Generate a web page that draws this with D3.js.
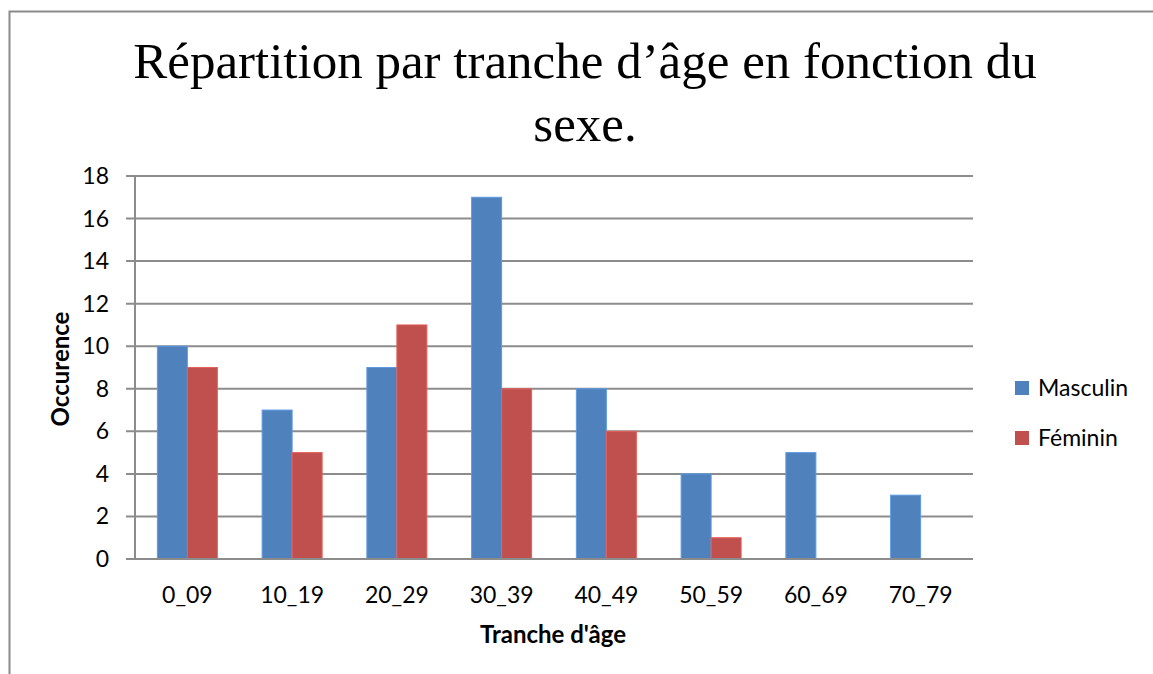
<!DOCTYPE html>
<html>
<head>
<meta charset="utf-8">
<script src="https://cdn.jsdelivr.net/npm/d3@7"></script>
<style>
  body { margin: 0; background: #fff; }
</style>
</head>
<body>
<div id="chart"></div>
<script>
// Data
var categories = ["0_09", "10_19", "20_29", "30_39", "40_49", "50_59", "60_69", "70_79"];
var masculin = [10, 7, 9, 17, 8, 4, 5, 3];
var feminin = [9, 5, 11, 8, 6, 1, 0, 0];
var seriesNames = ["Masculin", "Féminin"];
var colors = ["#4F81BD", "#C0504D"];
var yTicks = [0, 2, 4, 6, 8, 10, 12, 14, 16, 18];

var width = 1153, height = 674;
var sansFont = "Lato, 'Noto Sans', sans-serif";

var svg = d3.select("#chart")
  .append("svg")
  .attr("width", width)
  .attr("height", height);

// Chart frame (only left and top edges are visible)
svg.append("rect")
  .attr("x", 9.5)
  .attr("y", 11.5)
  .attr("width", 1200)
  .attr("height", 700)
  .attr("fill", "white")
  .attr("stroke", "#8a8a8a")
  .attr("stroke-width", 2);

// Title
var title = svg.append("text")
  .attr("text-anchor", "middle")
  .attr("font-family", "'Liberation Serif', 'DejaVu Serif', serif")
  .attr("font-size", "51px")
  .attr("fill", "#000");
title.append("tspan").attr("x", 585).attr("y", 78).text("Répartition par tranche d’âge en fonction du");
title.append("tspan").attr("x", 585).attr("y", 141).text("sexe.");

// Plot area
var plotLeft = 135, plotRight = 973, plotTop = 176, plotBottom = 559;

var x = d3.scaleBand()
  .domain(categories)
  .range([plotLeft, plotRight]);

var y = d3.scaleLinear()
  .domain([0, 18])
  .range([plotBottom, plotTop]);

// Gridlines
svg.append("g")
  .selectAll("line")
  .data(yTicks)
  .enter()
  .append("line")
  .attr("x1", plotLeft - 9)
  .attr("x2", plotRight)
  .attr("y1", function (d) { return y(d); })
  .attr("y2", function (d) { return y(d); })
  .attr("stroke", "#8c8c8c")
  .attr("stroke-width", 2);

// Y axis line
svg.append("line")
  .attr("x1", plotLeft)
  .attr("x2", plotLeft)
  .attr("y1", plotTop)
  .attr("y2", plotBottom)
  .attr("stroke", "#8c8c8c")
  .attr("stroke-width", 2);

// Y tick labels
svg.append("g")
  .selectAll("text")
  .data(yTicks)
  .enter()
  .append("text")
  .attr("x", plotLeft - 26)
  .attr("y", function (d) { return y(d); })
  .attr("dy", "0.35em")
  .attr("text-anchor", "end")
  .attr("font-family", sansFont)
  .attr("font-size", "23px")
  .attr("fill", "#000")
  .text(function (d) { return d; });

// Bars
var barW = 30;
var series = [masculin, feminin];
series.forEach(function (vals, s) {
  svg.append("g")
    .selectAll("rect")
    .data(vals)
    .enter()
    .append("rect")
    .attr("x", function (d, i) {
      return x(categories[i]) + x.bandwidth() / 2 - barW + s * barW;
    })
    .attr("y", function (d) { return y(d); })
    .attr("width", barW)
    .attr("height", function (d) { return plotBottom - y(d); })
    .attr("fill", colors[s])
    .attr("stroke", d3.color(colors[s]).brighter(0.5))
    .attr("stroke-width", 1);
});

// Redraw baseline on top of bars
svg.append("line")
  .attr("x1", plotLeft - 9)
  .attr("x2", plotRight)
  .attr("y1", plotBottom)
  .attr("y2", plotBottom)
  .attr("stroke", "#8c8c8c")
  .attr("stroke-width", 2);

// X category labels
svg.append("g")
  .selectAll("text")
  .data(categories)
  .enter()
  .append("text")
  .attr("x", function (d) { return x(d) + x.bandwidth() / 2; })
  .attr("y", 595)
  .attr("dy", "0.35em")
  .attr("text-anchor", "middle")
  .attr("font-family", sansFont)
  .attr("font-size", "23px")
  .attr("fill", "#000")
  .text(function (d) { return d; });

// Axis titles
svg.append("text")
  .attr("x", 553)
  .attr("y", 635)
  .attr("dy", "0.35em")
  .attr("text-anchor", "middle")
  .attr("font-family", sansFont)
  .attr("font-weight", "bold")
  .attr("font-size", "24px")
  .text("Tranche d'âge");

svg.append("text")
  .attr("transform", "translate(61,369) rotate(-90)")
  .attr("dy", "0.35em")
  .attr("text-anchor", "middle")
  .attr("font-family", sansFont)
  .attr("font-weight", "bold")
  .attr("font-size", "24px")
  .text("Occurence");

// Legend
var legend = svg.selectAll(".legend")
  .data(seriesNames)
  .enter()
  .append("g")
  .attr("class", "legend")
  .attr("transform", function (d, i) {
    return "translate(1015," + (388 + i * 50) + ")";
  });

legend.append("rect")
  .attr("x", 0)
  .attr("y", -7)
  .attr("width", 14)
  .attr("height", 14)
  .attr("fill", function (d, i) { return colors[i]; });

legend.append("text")
  .attr("x", 23)
  .attr("y", 0)
  .attr("dy", "0.35em")
  .attr("font-family", sansFont)
  .attr("font-size", "23px")
  .attr("fill", "#000")
  .text(function (d) { return d; });
</script>
</body>
</html>
